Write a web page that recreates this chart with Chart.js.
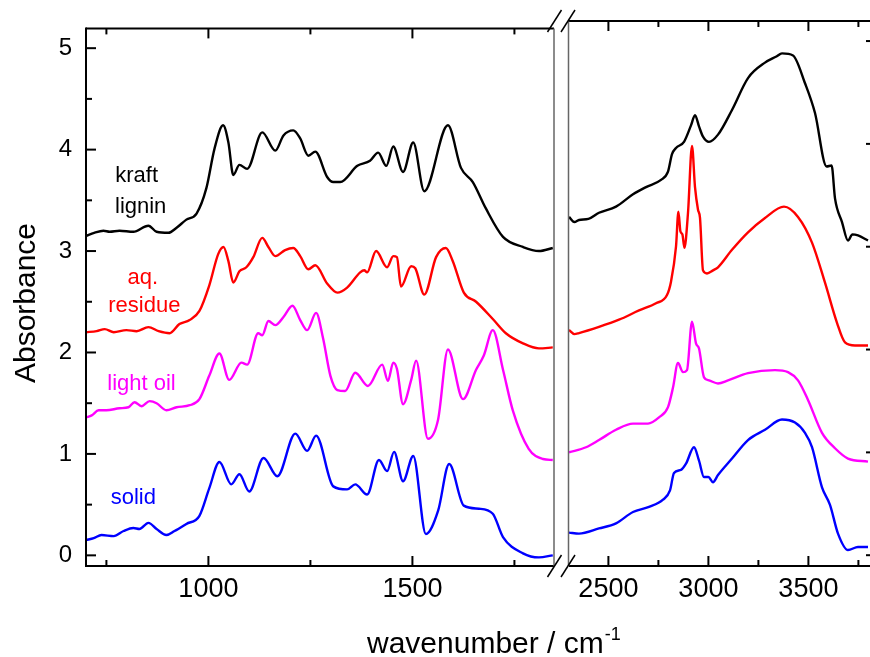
<!DOCTYPE html>
<html>
<head>
<meta charset="utf-8">
<script src="https://cdn.jsdelivr.net/npm/chart.js@4"></script>
<style>
  html, body { margin: 0; padding: 0; background: #fff; }
  #wrap { position: relative; width: 870px; height: 657px; overflow: hidden; }
  #wrap canvas { position: absolute; left: 0; top: 0; }
</style>
</head>
<body>
<div id="wrap">
  <canvas id="leftPanel" width="870" height="657"></canvas>
  <canvas id="rightPanel" width="870" height="657"></canvas>
</div>
<script>
// FTIR spectra, [wavenumber, absorbance] pairs
const kraftLeft = [[700,3.15],[720,3.18],[743,3.20],[758,3.19],[782,3.20],[816,3.19],[853,3.25],[873,3.19],[902,3.18],[922,3.23],[946,3.31],[971,3.37],[995,3.62],[1015,4.01],[1036,4.24],[1049,4.07],[1061,3.75],[1076,3.85],[1095,3.81],[1132,4.17],[1164,3.99],[1184,4.14],[1208,4.19],[1225,4.11],[1245,3.94],[1262,3.98],[1291,3.73],[1306,3.68],[1323,3.68],[1365,3.84],[1396,3.89],[1416,3.97],[1436,3.84],[1453,4.03],[1477,3.78],[1502,4.07],[1529,3.59],[1587,4.24],[1619,3.82],[1648,3.68],[1680,3.42],[1722,3.14],[1771,3.04],[1810,3.00],[1844,3.03]];
const residueLeft = [[700,2.20],[726,2.21],[746,2.23],[768,2.20],[799,2.22],[824,2.21],[853,2.25],[878,2.21],[905,2.19],[929,2.28],[954,2.32],[978,2.41],[1002,2.66],[1024,2.97],[1037,3.04],[1049,2.90],[1061,2.69],[1076,2.80],[1093,2.84],[1110,2.94],[1132,3.13],[1147,3.04],[1164,2.95],[1188,3.01],[1208,3.03],[1225,2.95],[1245,2.82],[1262,2.86],[1291,2.68],[1316,2.59],[1340,2.64],[1372,2.79],[1382,2.81],[1389,2.79],[1411,3.00],[1438,2.84],[1453,2.95],[1462,2.94],[1472,2.65],[1497,2.85],[1507,2.83],[1529,2.57],[1558,2.94],[1582,3.03],[1599,2.90],[1626,2.59],[1656,2.50],[1697,2.33],[1729,2.19],[1771,2.09],[1810,2.04],[1844,2.05]];
const oilLeft = [[700,1.36],[714,1.38],[731,1.43],[750,1.43],[782,1.45],[804,1.46],[819,1.51],[836,1.47],[856,1.52],[873,1.50],[897,1.43],[922,1.46],[954,1.48],[978,1.54],[1002,1.77],[1027,1.99],[1051,1.73],[1081,1.90],[1095,1.88],[1122,2.19],[1132,2.17],[1147,2.31],[1164,2.27],[1184,2.35],[1206,2.46],[1225,2.32],[1242,2.22],[1264,2.39],[1281,2.14],[1299,1.77],[1316,1.63],[1335,1.62],[1360,1.80],[1391,1.67],[1426,1.88],[1440,1.72],[1453,1.90],[1462,1.84],[1477,1.49],[1497,1.73],[1509,1.92],[1538,1.15],[1563,1.34],[1587,2.03],[1624,1.54],[1656,1.83],[1675,1.97],[1697,2.22],[1722,1.83],[1746,1.43],[1785,1.05],[1820,0.95],[1844,0.94]];
const solidLeft = [[700,0.15],[719,0.17],[738,0.20],[768,0.19],[792,0.24],[816,0.27],[831,0.26],[853,0.32],[873,0.26],[897,0.20],[917,0.24],[946,0.31],[978,0.39],[1002,0.66],[1027,0.92],[1056,0.70],[1076,0.80],[1100,0.63],[1135,0.96],[1169,0.78],[1213,1.20],[1242,1.03],[1264,1.18],[1306,0.68],[1340,0.65],[1360,0.70],[1389,0.60],[1418,0.94],[1438,0.83],[1455,1.02],[1477,0.73],[1502,0.98],[1533,0.21],[1563,0.44],[1590,0.90],[1626,0.49],[1663,0.46],[1697,0.41],[1722,0.18],[1771,0.02],[1810,-0.02],[1844,0.00]];

const kraftRight = [[2303,3.29],[2330,3.24],[2353,3.26],[2400,3.27],[2453,3.33],[2538,3.39],[2623,3.51],[2688,3.58],[2763,3.65],[2798,3.73],[2818,3.90],[2838,3.96],[2878,4.02],[2913,4.18],[2933,4.28],[2953,4.17],[2973,4.07],[3003,4.02],[3048,4.09],[3118,4.33],[3198,4.64],[3283,4.79],[3340,4.85],[3368,4.88],[3423,4.86],[3483,4.59],[3533,4.30],[3591,3.78],[3616,3.79],[3633,3.47],[3668,3.24],[3698,3.06],[3720,3.12],[3748,3.11],[3798,3.06]];
const residueRight = [[2303,2.19],[2330,2.15],[2353,2.16],[2453,2.22],[2553,2.29],[2653,2.38],[2738,2.45],[2793,2.53],[2813,2.66],[2838,3.00],[2850,3.34],[2860,3.15],[2870,3.12],[2880,2.99],[2898,3.33],[2918,3.98],[2933,3.58],[2948,3.36],[2958,3.28],[2973,2.77],[2993,2.74],[3023,2.77],[3048,2.80],[3118,2.97],[3198,3.14],[3283,3.28],[3378,3.39],[3448,3.29],[3518,3.04],[3583,2.65],[3643,2.26],[3683,2.07],[3733,2.04],[3798,2.04]];
const oilRight = [[2303,1.00],[2388,1.05],[2453,1.12],[2538,1.22],[2623,1.28],[2698,1.28],[2753,1.34],[2798,1.44],[2823,1.63],[2848,1.87],[2873,1.78],[2893,1.80],[2918,2.27],[2938,2.06],[2953,2.01],[2978,1.73],[3003,1.70],[3048,1.67],[3098,1.70],[3198,1.77],[3333,1.80],[3398,1.78],[3448,1.70],[3498,1.51],[3568,1.19],[3633,1.04],[3698,0.94],[3798,0.91]];
const solidRight = [[2303,0.22],[2353,0.21],[2453,0.26],[2538,0.31],[2623,0.42],[2703,0.47],[2773,0.54],[2808,0.63],[2828,0.80],[2863,0.83],[2888,0.89],[2928,1.05],[2953,0.92],[2978,0.76],[3000,0.76],[3023,0.71],[3048,0.78],[3118,0.94],[3198,1.12],[3283,1.22],[3368,1.32],[3433,1.29],[3483,1.19],[3518,1.05],[3568,0.66],[3608,0.49],[3648,0.21],[3698,0.05],[3748,0.08],[3798,0.08]];

const sampleNames = ['kraft lignin', 'aq. residue', 'light oil', 'solid'];
const sampleColors = ['#000000', '#ff0000', '#ff00ff', '#0000ff'];

const yTicks = [0, 1, 2, 3, 4, 5];
const yMinorTicks = [0.5, 1.5, 2.5, 3.5, 4.5];
const xLeftTicks = [1000, 1500];
const xLeftMinor = [750, 1250, 1750];
const xRightTicks = [2500, 3000, 3500];
const xRightMinor = [2750, 3250, 3750];

const FONT = '"Liberation Sans", Arial, sans-serif';
Chart.defaults.font.family = FONT;
Chart.defaults.color = '#000';

function series(pts, i) {
  return {
    label: sampleNames[i],
    data: pts.map(p => ({ x: p[0], y: p[1] })),
    borderColor: sampleColors[i],
    borderWidth: 2.4,
    pointRadius: 0,
    cubicInterpolationMode: 'monotone',
    fill: false
  };
}

function line(ctx, x1, y1, x2, y2) {
  ctx.beginPath(); ctx.moveTo(x1, y1); ctx.lineTo(x2, y2); ctx.stroke();
}

function xTickMarks(ctx, chart, major, minor) {
  const a = chart.chartArea, xs = chart.scales.x;
  major.forEach(v => { const p = xs.getPixelForValue(v); line(ctx, p, a.bottom, p, a.bottom - 10); line(ctx, p, a.top, p, a.top + 10); });
  minor.forEach(v => { const p = xs.getPixelForValue(v); line(ctx, p, a.bottom, p, a.bottom - 6); line(ctx, p, a.top, p, a.top + 6); });
}

const leftDecor = {
  id: 'leftDecor',
  afterDraw(chart) {
    const ctx = chart.ctx, a = chart.chartArea, xs = chart.scales.x, ys = chart.scales.y;
    ctx.save();
    ctx.strokeStyle = '#000';
    ctx.lineWidth = 2;
    line(ctx, a.left, a.top, a.right, a.top);
    line(ctx, a.left, a.bottom, a.right, a.bottom);
    line(ctx, a.left, a.top - 1, a.left, a.bottom + 1);
    xTickMarks(ctx, chart, xLeftTicks, xLeftMinor);
    yTicks.forEach(v => { const p = ys.getPixelForValue(v); line(ctx, a.left, p, a.left + 10, p); });
    yMinorTicks.forEach(v => { const p = ys.getPixelForValue(v); line(ctx, a.left, p, a.left + 6, p); });
    ctx.strokeStyle = '#666';
    ctx.lineWidth = 1.5;
    line(ctx, a.right, a.top, a.right, a.bottom);

    // sample names next to the curves
    ctx.font = '22px ' + FONT;
    ctx.textAlign = 'center';
    ctx.textBaseline = 'alphabetic';
    const tags = [['kraft', 824, 3.68, 0], ['lignin', 834, 3.375, 0], ['aq.', 839, 2.675, 1],
                  ['residue', 843, 2.40, 1], ['light oil', 836, 1.634, 2], ['solid', 816, 0.506, 3]];
    tags.forEach(t => {
      ctx.fillStyle = sampleColors[t[3]];
      ctx.fillText(t[0], xs.getPixelForValue(t[1]), ys.getPixelForValue(t[2]));
    });

    // axis titles
    ctx.fillStyle = '#000';
    ctx.font = '30px ' + FONT;
    ctx.save();
    ctx.translate(35, 303);
    ctx.rotate(-Math.PI / 2);
    ctx.fillText('Absorbance', 0, 0);
    ctx.restore();
    ctx.textAlign = 'left';
    const main = 'wavenumber / cm';
    ctx.fillText(main, 367, 653);
    const w = ctx.measureText(main).width;
    ctx.font = '18px ' + FONT;
    ctx.fillText('-1', 367 + w + 1, 640);
    ctx.restore();
  }
};

const rightDecor = {
  id: 'rightDecor',
  afterDraw(chart) {
    const ctx = chart.ctx, a = chart.chartArea, ys = chart.scales.y;
    ctx.save();
    ctx.strokeStyle = '#000';
    ctx.lineWidth = 2;
    line(ctx, a.left, a.top, a.right, a.top);
    line(ctx, a.left, a.bottom, a.right, a.bottom);
    xTickMarks(ctx, chart, xRightTicks, xRightMinor);
    yTicks.forEach(v => { const p = ys.getPixelForValue(v); line(ctx, a.right, p, a.right - 4, p); });
    ctx.strokeStyle = '#666';
    ctx.lineWidth = 1.5;
    line(ctx, a.left - 0.5, a.top, a.left - 0.5, a.bottom);
    // axis break marks
    ctx.strokeStyle = '#000';
    ctx.lineWidth = 1.5;
    [554.5, 568].forEach(x => {
      [a.top, a.bottom].forEach(y => line(ctx, x - 7, y + 11, x + 7, y - 11));
    });
    ctx.restore();
  }
};

function xScale(min, max, ticks) {
  return {
    type: 'linear', min: min, max: max,
    afterFit: s => { s.height = 91; },
    afterBuildTicks: s => { s.ticks = ticks.map(v => ({ value: v })); },
    grid: { display: false, drawTicks: false },
    border: { display: false },
    ticks: { padding: 7, color: '#000', font: { size: 27 }, maxRotation: 0, callback: v => String(v) }
  };
}

new Chart(document.getElementById('leftPanel'), {
  type: 'line',
  data: { datasets: [kraftLeft, residueLeft, oilLeft, solidLeft].map(series) },
  options: {
    responsive: false,
    animation: false,
    layout: { padding: { top: 21, right: 316, left: 0, bottom: 0 } },
    plugins: { legend: { display: false }, tooltip: { enabled: false } },
    scales: {
      x: xScale(700, 1847, xLeftTicks),
      y: {
        min: -0.105, max: 5.195,
        afterFit: s => { s.width = 86; },
        afterBuildTicks: s => { s.ticks = yTicks.map(v => ({ value: v })); },
        grid: { display: false, drawTicks: false },
        border: { display: false },
        ticks: { padding: 14, color: '#000', font: { size: 24 }, callback: v => String(v) }
      }
    }
  },
  plugins: [leftDecor]
});

new Chart(document.getElementById('rightPanel'), {
  type: 'line',
  data: { datasets: [kraftRight, residueRight, oilRight, solidRight].map(series) },
  options: {
    responsive: false,
    animation: false,
    layout: { padding: { top: 21, right: 0, left: 569, bottom: 0 } },
    plugins: { legend: { display: false }, tooltip: { enabled: false } },
    scales: {
      x: xScale(2303, 3808, xRightTicks),
      y: { display: false, min: -0.105, max: 5.195 }
    }
  },
  plugins: [rightDecor]
});
</script>
</body>
</html>
